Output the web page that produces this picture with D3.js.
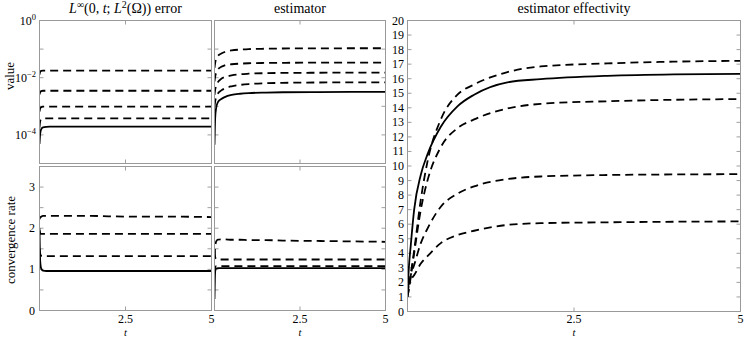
<!DOCTYPE html>
<html>
<head>
<meta charset="utf-8">
<script src="https://cdn.jsdelivr.net/npm/d3@7"></script>
<style>
  body { margin: 0; background: #fff; }
</style>
</head>
<body>
<script>
// Shared time grid (t)
const times = [0, 0.02, 0.05, 0.1, 0.2, 0.3, 0.5, 0.75, 1, 1.5, 2, 3, 4, 5];

// L-infinity(0,t;L2) error, finest level first (solid), then coarser (dashed)
const errorSeries = [
  [4.8e-5, 1.1e-4, 1.6e-4, 1.85e-4, 1.92e-4, 1.94e-4, 1.94e-4, 1.94e-4, 1.94e-4, 1.94e-4, 1.94e-4, 1.94e-4, 1.94e-4, 1.94e-4],
  [1.8e-4, 3.0e-4, 3.6e-4, 3.75e-4, 3.8e-4, 3.8e-4, 3.8e-4, 3.8e-4, 3.8e-4, 3.8e-4, 3.8e-4, 3.8e-4, 3.8e-4, 3.8e-4],
  [6.5e-4, 8.5e-4, 9.4e-4, 9.7e-4, 9.7e-4, 9.7e-4, 9.7e-4, 9.7e-4, 9.7e-4, 9.7e-4, 9.7e-4, 9.7e-4, 9.7e-4, 9.7e-4],
  [2.6e-3, 3.1e-3, 3.4e-3, 3.5e-3, 3.5e-3, 3.5e-3, 3.5e-3, 3.5e-3, 3.5e-3, 3.5e-3, 3.5e-3, 3.5e-3, 3.5e-3, 3.5e-3],
  [1.3e-2, 1.6e-2, 1.72e-2, 1.76e-2, 1.76e-2, 1.76e-2, 1.76e-2, 1.76e-2, 1.76e-2, 1.76e-2, 1.76e-2, 1.76e-2, 1.76e-2, 1.76e-2]
];

// estimator values
const estimatorSeries = [
  [4.5e-5, 4e-4, 9e-4, 1.4e-3, 1.8e-3, 2.1e-3, 2.5e-3, 2.75e-3, 2.9e-3, 3.03e-3, 3.1e-3, 3.15e-3, 3.17e-3, 3.17e-3],
  [1.0e-3, 1.5e-3, 2.1e-3, 2.8e-3, 3.6e-3, 4.2e-3, 5.0e-3, 5.6e-3, 6.0e-3, 6.4e-3, 6.6e-3, 6.8e-3, 6.85e-3, 6.9e-3],
  [2.5e-3, 3.8e-3, 5.2e-3, 7.0e-3, 9.2e-3, 1.05e-2, 1.2e-2, 1.32e-2, 1.38e-2, 1.44e-2, 1.47e-2, 1.49e-2, 1.5e-2, 1.5e-2],
  [7.5e-3, 1.1e-2, 1.5e-2, 1.95e-2, 2.4e-2, 2.7e-2, 2.95e-2, 3.1e-2, 3.2e-2, 3.28e-2, 3.32e-2, 3.35e-2, 3.35e-2, 3.35e-2],
  [2.2e-2, 3.3e-2, 4.6e-2, 5.8e-2, 7.0e-2, 7.9e-2, 9.0e-2, 9.6e-2, 0.1, 0.103, 0.105, 0.106, 0.107, 0.107]
];

// convergence rates of the error
const errorRateSeries = [
  [2.0, 1.2, 1.02, 0.97, 0.96, 0.96, 0.96, 0.96, 0.96, 0.96, 0.96, 0.96, 0.96, 0.96],
  [1.5, 1.38, 1.33, 1.32, 1.32, 1.32, 1.32, 1.32, 1.32, 1.32, 1.32, 1.32, 1.32, 1.32],
  [1.95, 1.88, 1.86, 1.86, 1.86, 1.86, 1.86, 1.86, 1.86, 1.86, 1.86, 1.86, 1.86, 1.86],
  [2.22, 2.26, 2.28, 2.3, 2.3, 2.3, 2.3, 2.3, 2.3, 2.3, 2.29, 2.28, 2.28, 2.27]
];

// convergence rates of the estimator
const estimatorRateSeries = [
  [0.28, 0.95, 1.02, 1.03, 1.03, 1.03, 1.03, 1.03, 1.03, 1.03, 1.03, 1.03, 1.03, 1.03],
  [0.9, 1.05, 1.08, 1.08, 1.08, 1.08, 1.08, 1.08, 1.08, 1.08, 1.08, 1.08, 1.08, 1.08],
  [1.45, 1.3, 1.25, 1.24, 1.24, 1.24, 1.24, 1.24, 1.24, 1.24, 1.24, 1.24, 1.24, 1.24],
  [1.3, 1.55, 1.68, 1.72, 1.73, 1.73, 1.72, 1.72, 1.71, 1.71, 1.7, 1.69, 1.68, 1.67]
];

// estimator effectivity
const effectivitySeries = [
  [1.3, 3.0, 4.6, 7.0, 9.4, 10.8, 12.7, 14.1, 14.9, 15.75, 15.97, 16.2, 16.3, 16.33],
  [1.0, 1.6, 2.6, 4.2, 7.7, 10.3, 13.2, 14.9, 15.6, 16.45, 16.84, 17.05, 17.17, 17.23],
  [1.0, 1.5, 2.4, 4.0, 7.0, 9.0, 11.3, 12.6, 13.2, 13.95, 14.27, 14.45, 14.55, 14.6],
  [1.2, 1.8, 2.5, 3.2, 4.7, 5.7, 7.2, 8.1, 8.6, 9.1, 9.28, 9.38, 9.42, 9.44],
  [1.5, 1.9, 2.2, 2.5, 3.3, 3.8, 4.7, 5.25, 5.55, 5.95, 6.07, 6.13, 6.17, 6.19]
];

const xTickLabels = ["2.5", "5"];
const logTickLabels = [0, -2, -4];
const rateTickLabels = [0, 1, 2, 3];
const effTickLabels = d3.range(0, 21);

const width = 747, height = 339;
const serif = "'Liberation Serif', 'DejaVu Serif', serif";

const svg = d3.select("body")
    .append("svg")
    .attr("width", width)
    .attr("height", height)
    .attr("font-family", serif);

const frameColor = "#999";
const tickLen = 4;
let clipId = 0;

// draw one panel: frame, inward ticks on all sides, curves
function panel(box, yScaleType, yDomain, yTicks, series) {
    const x = d3.scaleLinear().domain([0, 5]).range([box.x0, box.x1]);
    const y = (yScaleType === "log" ? d3.scaleLog() : d3.scaleLinear())
        .domain(yDomain).range([box.y1, box.y0]);

    const g = svg.append("g");
    const id = "clip" + (clipId++);
    g.append("clipPath").attr("id", id)
        .append("rect")
        .attr("x", box.x0).attr("y", box.y0)
        .attr("width", box.x1 - box.x0).attr("height", box.y1 - box.y0);

    // ticks
    const ticks = g.append("g").attr("stroke", "#888").attr("stroke-width", 0.8);
    yTicks.forEach(v => {
        ticks.append("line").attr("x1", box.x0).attr("x2", box.x0 + tickLen)
            .attr("y1", y(v)).attr("y2", y(v));
        ticks.append("line").attr("x1", box.x1).attr("x2", box.x1 - tickLen)
            .attr("y1", y(v)).attr("y2", y(v));
    });
    [2.5].forEach(v => {
        ticks.append("line").attr("x1", x(v)).attr("x2", x(v))
            .attr("y1", box.y0).attr("y2", box.y0 + tickLen);
        ticks.append("line").attr("x1", x(v)).attr("x2", x(v))
            .attr("y1", box.y1).attr("y2", box.y1 - tickLen);
    });

    // curves
    const line = d3.line()
        .x((d, i) => x(times[i]))
        .y(d => y(d))
        .curve(d3.curveMonotoneX);

    g.append("g").attr("clip-path", `url(#${id})`)
        .selectAll("path")
        .data(series)
        .join("path")
        .attr("d", d => line(d))
        .attr("fill", "none")
        .attr("stroke", "#000")
        .attr("stroke-width", 1.8)
        .attr("stroke-dasharray", (d, i) => i === 0 ? null : "8,5");

    // frame
    g.append("rect")
        .attr("x", box.x0).attr("y", box.y0)
        .attr("width", box.x1 - box.x0).attr("height", box.y1 - box.y0)
        .attr("fill", "none")
        .attr("stroke", frameColor)
        .attr("stroke-width", 1);

    return {x, y};
}

const leftX = {x0: 39.5, x1: 211.5};
const midX = {x0: 214.5, x1: 385.5};
const topY = {y0: 20.5, y1: 163.5};
const botY = {y0: 166.5, y1: 310.5};

const logTicks = d3.range(-5, 1).map(e => Math.pow(10, e));
const rateTicks = d3.range(0, 3.51, 0.5);

const errTop = panel({...leftX, ...topY}, "log", [1e-5, 1], logTicks, errorSeries);
panel({...midX, ...topY}, "log", [1e-5, 1], logTicks, estimatorSeries);
const errBot = panel({...leftX, ...botY}, "linear", [0, 3.5], rateTicks, errorRateSeries);
const estBot = panel({...midX, ...botY}, "linear", [0, 3.5], rateTicks, estimatorRateSeries);
const eff = panel({x0: 407.5, x1: 740.5, y0: 20.5, y1: 311.5}, "linear", [0, 20], effTickLabels, effectivitySeries);

// y tick labels: log
logTickLabels.forEach(e => {
    const t = svg.append("text")
        .attr("x", 36).attr("y", errTop.y(Math.pow(10, e)) + 4)
        .attr("text-anchor", "end")
        .attr("font-size", 12);
    t.append("tspan").text("10");
    t.append("tspan").attr("dy", -5).attr("font-size", 8.5)
        .text(e === 0 ? "0" : "\u2212" + (-e));
});

rateTickLabels.forEach(v => {
    svg.append("text")
        .attr("x", 35).attr("y", errBot.y(v) + 4)
        .attr("text-anchor", "end")
        .attr("font-size", 12)
        .text(v);
});

effTickLabels.forEach(v => {
    svg.append("text")
        .attr("x", 404).attr("y", eff.y(v) + 4)
        .attr("text-anchor", "end")
        .attr("font-size", 12)
        .text(v);
});

// x tick labels and t labels
[errBot.x, estBot.x, eff.x].forEach(x => {
    [2.5, 5].forEach((v, i) => {
        svg.append("text")
            .attr("x", x(v)).attr("y", 323)
            .attr("text-anchor", "middle")
            .attr("font-size", 12)
            .text(xTickLabels[i]);
    });
    svg.append("text")
        .attr("x", x(2.5)).attr("y", 336.3)
        .attr("text-anchor", "middle")
        .attr("font-size", 10.5)
        .attr("font-style", "italic")
        .text("t");
});

// axis labels
svg.append("text")
    .attr("transform", "translate(14,76) rotate(-90)")
    .attr("text-anchor", "middle")
    .attr("font-size", 13)
    .text("value");

svg.append("text")
    .attr("transform", "translate(15,240) rotate(-90)")
    .attr("text-anchor", "middle")
    .attr("font-size", 13)
    .text("convergence rate");

// titles
const t1 = svg.append("text")
    .attr("x", 125.5).attr("y", 13)
    .attr("text-anchor", "middle")
    .attr("font-size", 14);
t1.append("tspan").attr("font-style", "italic").text("L");
t1.append("tspan").attr("dy", -5).attr("font-size", 10).text("\u221E");
t1.append("tspan").attr("dy", 5).text("(0, ");
t1.append("tspan").attr("font-style", "italic").text("t");
t1.append("tspan").text("; ");
t1.append("tspan").attr("font-style", "italic").text("L");
t1.append("tspan").attr("dy", -5).attr("font-size", 10).text("2");
t1.append("tspan").attr("dy", 5).text("(\u03A9)) error");

svg.append("text")
    .attr("x", 300).attr("y", 13)
    .attr("text-anchor", "middle")
    .attr("font-size", 14)
    .text("estimator");

svg.append("text")
    .attr("x", 574).attr("y", 13)
    .attr("text-anchor", "middle")
    .attr("font-size", 14)
    .text("estimator effectivity");
</script>
</body>
</html>
